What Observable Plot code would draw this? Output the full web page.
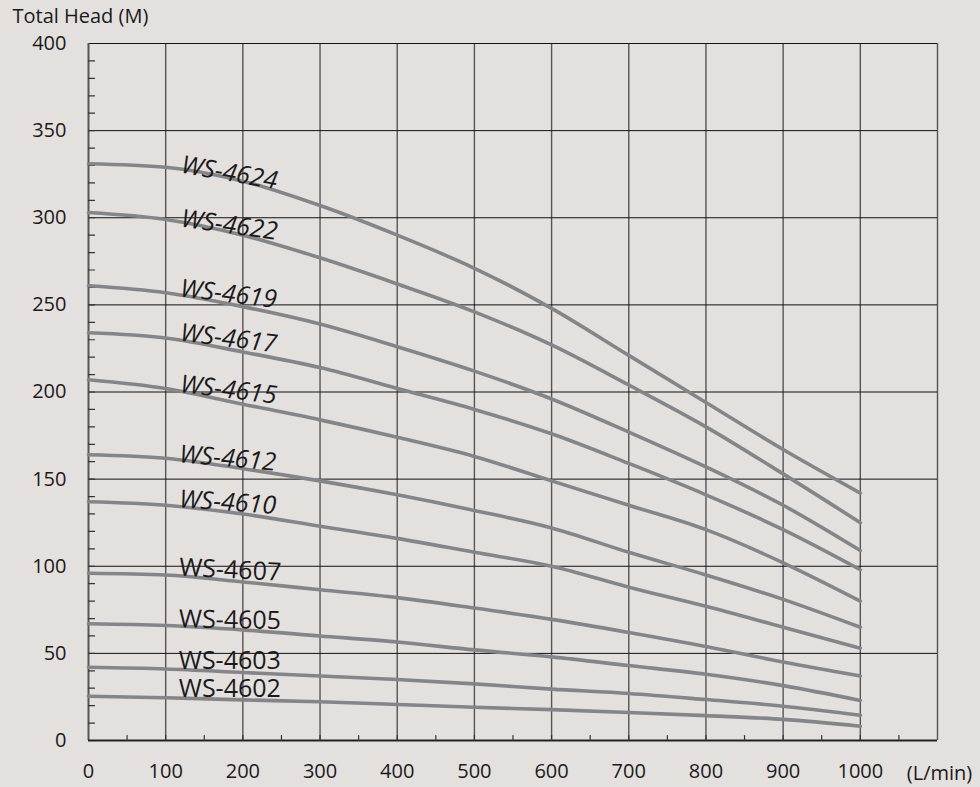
<!DOCTYPE html>
<html>
<head>
<meta charset="utf-8">
<script src="https://cdn.jsdelivr.net/npm/d3@7"></script>
<script src="https://cdn.jsdelivr.net/npm/@observablehq/plot@0.6"></script>
<style>
  html, body { margin: 0; padding: 0; background: #e4e0de; }
  #chart svg { display: block; }
</style>
</head>
<body>
<div id="chart"></div>
<script>
// ---- data ----
const flow = [0, 100, 200, 300, 400, 500, 600, 700, 800, 900, 1000];
const models = ["WS-4624", "WS-4622", "WS-4619", "WS-4617", "WS-4615", "WS-4612", "WS-4610", "WS-4607", "WS-4605", "WS-4603", "WS-4602"];
const head4624 = [331, 329, 321, 307, 290, 271, 248, 221, 194, 167, 142];
const head4622 = [303, 299, 290, 277, 262, 246, 227, 204, 180, 153, 125];
const head4619 = [261, 257, 249, 239, 226, 212, 196, 177, 157, 135, 109];
const head4617 = [234, 231, 223, 214, 202, 190, 176, 159, 141, 121, 98];
const head4615 = [207, 202, 193, 184, 174, 163, 149, 135, 121, 102, 80];
const head4612 = [164, 162, 156, 149, 141, 132, 122, 108, 95, 81, 65];
const head4610 = [137, 135, 130, 123, 116, 108, 100, 88, 77, 65, 53];
const head4607 = [96, 95, 91, 86.5, 82, 76, 69.5, 62, 54, 45, 37];
const head4605 = [67, 66, 63.5, 60, 56.5, 52, 48, 43, 38, 31.5, 23];
const head4603 = [42, 41, 39, 37, 35, 32.5, 29.5, 27, 23.5, 19.7, 14.5];
const head4602 = [25.4, 24.5, 23.3, 22.2, 20.7, 19.1, 17.7, 16.1, 14.3, 12.1, 8.2];
const heads = [head4624, head4622, head4619, head4617, head4615, head4612, head4610, head4607, head4605, head4603, head4602];

// label anchor points (data coordinates) and tilt
const labelFlow = [119, 119, 118, 118, 118, 117, 117, 117, 117, 117, 117];
const labelHead = [326, 295, 255, 229.5, 200, 159.7, 133.9, 94.7, 65, 41.1, 24.8];
const labelTilt = [10, 8, 7, 7, 7, 5, 4, 3, 1, 0, 0];

const xTicks = [0, 100, 200, 300, 400, 500, 600, 700, 800, 900, 1000];
const yTicks = [0, 50, 100, 150, 200, 250, 300, 350, 400];
const xGrid = [100, 200, 300, 400, 500, 600, 700, 800, 900, 1000, 1100];
const yGrid = [50, 100, 150, 200, 250, 300, 350, 400];
const xMinor = d3.range(50, 1100, 50);
const yMinor = d3.range(10, 400, 10);

const yTitle = "Total Head (M)";
const xTitle = "(L/min)";

// ---- build tables ----
const rows = [];
models.forEach((m, i) => flow.forEach((q, j) => rows.push({model: m, flow: q, head: heads[i][j]})));
const labels = models.map((m, i) => ({model: m, flow: labelFlow[i], head: labelHead[i], tilt: labelTilt[i]}));
const italicLabels = labels.filter(d => d.tilt >= 4);
const uprightLabels = labels.filter(d => d.tilt < 4);

const tickShape = {draw(ctx, l) { ctx.moveTo(0, 0); ctx.lineTo(0, -l); }};

const chart = Plot.plot({
  width: 980,
  height: 787,
  marginLeft: 88,
  marginRight: 43,
  marginTop: 43,
  marginBottom: 47,
  style: {background: "#e4e0de", fontFamily: "'Open Sans', sans-serif", color: "#1a1a1a"},
  x: {domain: [0, 1100]},
  y: {domain: [0, 400]},
  marks: [
    Plot.gridX(xGrid, {stroke: "#555", strokeOpacity: 1, strokeWidth: 1.4}),
    Plot.gridY(yGrid, {stroke: "#111", strokeOpacity: 1, strokeWidth: 1}),
    Plot.ruleX([0], {stroke: "#555", strokeWidth: 2}),
    Plot.ruleY([0], {stroke: "#222", strokeWidth: 2}),
    Plot.vector(yMinor, {x: 0, y: d => d, length: 6, rotate: 90, anchor: "start", shape: tickShape, stroke: "#333", strokeWidth: 1.2}),
    Plot.vector(xMinor, {x: d => d, y: 0, length: 5, rotate: 0, anchor: "start", shape: tickShape, stroke: "#333", strokeWidth: 1.2}),
    Plot.axisX(xTicks, {tickSize: 0, tickPadding: 23, fontSize: 20, tickFormat: "d", label: null, fill: "#1a1a1a"}),
    Plot.axisY(yTicks, {tickSize: 0, tickPadding: 22, fontSize: 20, tickFormat: "d", label: null, fill: "#1a1a1a"}),
    Plot.line(rows, {x: "flow", y: "head", z: "model", stroke: "#858587", strokeWidth: 3.6, curve: "monotone-x"}),
    Plot.text(italicLabels, {x: "flow", y: "head", text: "model", rotate: "tilt", textAnchor: "start", lineAnchor: "bottom", fontSize: 25, fontStyle: "italic", fill: "#1a1a1a"}),
    Plot.text(uprightLabels, {x: "flow", y: "head", text: "model", rotate: "tilt", textAnchor: "start", lineAnchor: "bottom", fontSize: 25, fill: "#1a1a1a"}),
    Plot.text([yTitle], {frameAnchor: "top-left", dx: -76, dy: -21, textAnchor: "start", lineAnchor: "bottom", fontSize: 20, fill: "#1a1a1a"}),
    Plot.text([xTitle], {frameAnchor: "bottom-right", dx: 2, dy: 39, textAnchor: "middle", lineAnchor: "bottom", fontSize: 20, fill: "#1a1a1a"})
  ]
});
document.getElementById("chart").append(chart);
</script>
</body>
</html>
